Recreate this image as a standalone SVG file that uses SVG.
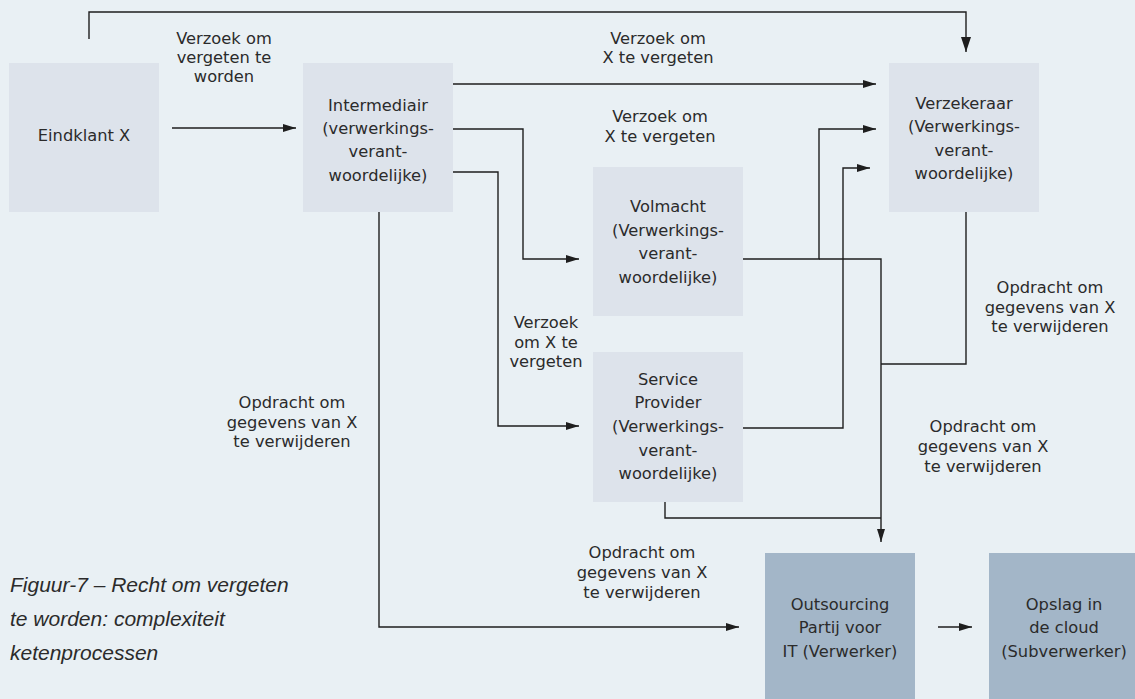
<svg xmlns="http://www.w3.org/2000/svg" width="1135" height="699" viewBox="0 0 1135 699">
<style>
.bg{fill:#E9F0F4}
.n{fill:#DDE3EB}
.d{fill:#A3B6C8}
text{font-family:"DejaVu Sans","Liberation Sans",sans-serif;font-size:16.3px;fill:#2b2b2b;text-anchor:middle}
.cap{font-family:"Liberation Sans",sans-serif;font-style:italic;font-size:21px;text-anchor:start}
.c{fill:none;stroke:#1e1e1e;stroke-width:1.4}
</style>
<defs>
<marker id="ah" markerUnits="userSpaceOnUse" markerWidth="13" markerHeight="8" refX="13" refY="4" orient="auto">
<path d="M0,0 L13,4 L0,8 z" fill="#1e1e1e"/>
</marker>
<marker id="ahb" markerUnits="userSpaceOnUse" markerWidth="15" markerHeight="10" refX="15" refY="5" orient="auto">
<path d="M0,0 L15,5 L0,10 z" fill="#1e1e1e"/>
</marker>
</defs>
<rect class="bg" x="0" y="0" width="1135" height="699"/>

<g id="eindklant">
<rect class="n" x="9" y="63" width="150" height="149"/>
<text x="84" y="141">Eindklant X</text>
</g>
<g id="intermediair">
<rect class="n" x="303" y="63" width="150" height="149"/>
<text x="378" y="111">Intermediair</text>
<text x="378" y="134">(verwerkings-</text>
<text x="378" y="157">verant-</text>
<text x="378" y="181">woordelijke)</text>
</g>
<g id="verzekeraar">
<rect class="n" x="889" y="63" width="150" height="149"/>
<text x="964" y="109">Verzekeraar</text>
<text x="964" y="132">(Verwerkings-</text>
<text x="964" y="156">verant-</text>
<text x="964" y="179">woordelijke)</text>
</g>
<g id="volmacht">
<rect class="n" x="593" y="167" width="150" height="149"/>
<text x="668" y="212">Volmacht</text>
<text x="668" y="236">(Verwerkings-</text>
<text x="668" y="259">verant-</text>
<text x="668" y="283">woordelijke)</text>
</g>
<g id="serviceprovider">
<rect class="n" x="593" y="352" width="150" height="150"/>
<text x="668" y="385">Service</text>
<text x="668" y="408">Provider</text>
<text x="668" y="432">(Verwerkings-</text>
<text x="668" y="456">verant-</text>
<text x="668" y="479">woordelijke)</text>
</g>
<g id="outsourcing">
<rect class="d" x="765" y="553" width="150" height="150"/>
<text x="840" y="610">Outsourcing</text>
<text x="840" y="633">Partij voor</text>
<text x="840" y="657">IT (Verwerker)</text>
</g>
<g id="opslag">
<rect class="d" x="989" y="553" width="150" height="150"/>
<text x="1064" y="610">Opslag in</text>
<text x="1064" y="633">de cloud</text>
<text x="1064" y="657">(Subverwerker)</text>
</g>

<g id="connectors">
<path class="c" d="M89,39 V12 H966 V52" marker-end="url(#ahb)"/>
<path class="c" d="M172,128 H296" marker-end="url(#ah)"/>
<path class="c" d="M453,84 H876" marker-end="url(#ah)"/>
<path class="c" d="M453,129 H523 V259 H579" marker-end="url(#ah)"/>
<path class="c" d="M453,172 H498 V426 H579" marker-end="url(#ah)"/>
<path class="c" d="M743,259 H819 V129 H876" marker-end="url(#ah)"/>
<path class="c" d="M743,428 H843 V168 H870" marker-end="url(#ah)"/>
<path class="c" d="M819,259 H881 V542" marker-end="url(#ah)"/>
<path class="c" d="M966,212 V364 H881"/>
<path class="c" d="M665,502 V518 H881"/>
<path class="c" d="M379,212 V627 H739" marker-end="url(#ah)"/>
<path class="c" d="M938,627 H972" marker-end="url(#ah)"/>
</g>

<g id="labels">
<text x="224" y="44">Verzoek om</text>
<text x="224" y="63">vergeten te</text>
<text x="224" y="82">worden</text>
<text x="658" y="44">Verzoek om</text>
<text x="658" y="63">X te vergeten</text>
<text x="660" y="122">Verzoek om</text>
<text x="660" y="142">X te vergeten</text>
<text x="546" y="328">Verzoek</text>
<text x="546" y="348">om X te</text>
<text x="546" y="367">vergeten</text>
<text x="292" y="408">Opdracht om</text>
<text x="292" y="428">gegevens van X</text>
<text x="292" y="447">te verwijderen</text>
<text x="642" y="558">Opdracht om</text>
<text x="642" y="578">gegevens van X</text>
<text x="642" y="598">te verwijderen</text>
<text x="983" y="432">Opdracht om</text>
<text x="983" y="452">gegevens van X</text>
<text x="983" y="472">te verwijderen</text>
<text x="1050" y="293">Opdracht om</text>
<text x="1050" y="313">gegevens van X</text>
<text x="1050" y="332">te verwijderen</text>
</g>

<g id="caption">
<text class="cap" x="10" y="592">Figuur-7 – Recht om vergeten</text>
<text class="cap" x="10" y="626">te worden: complexiteit</text>
<text class="cap" x="10" y="660">ketenprocessen</text>
</g>
</svg>
